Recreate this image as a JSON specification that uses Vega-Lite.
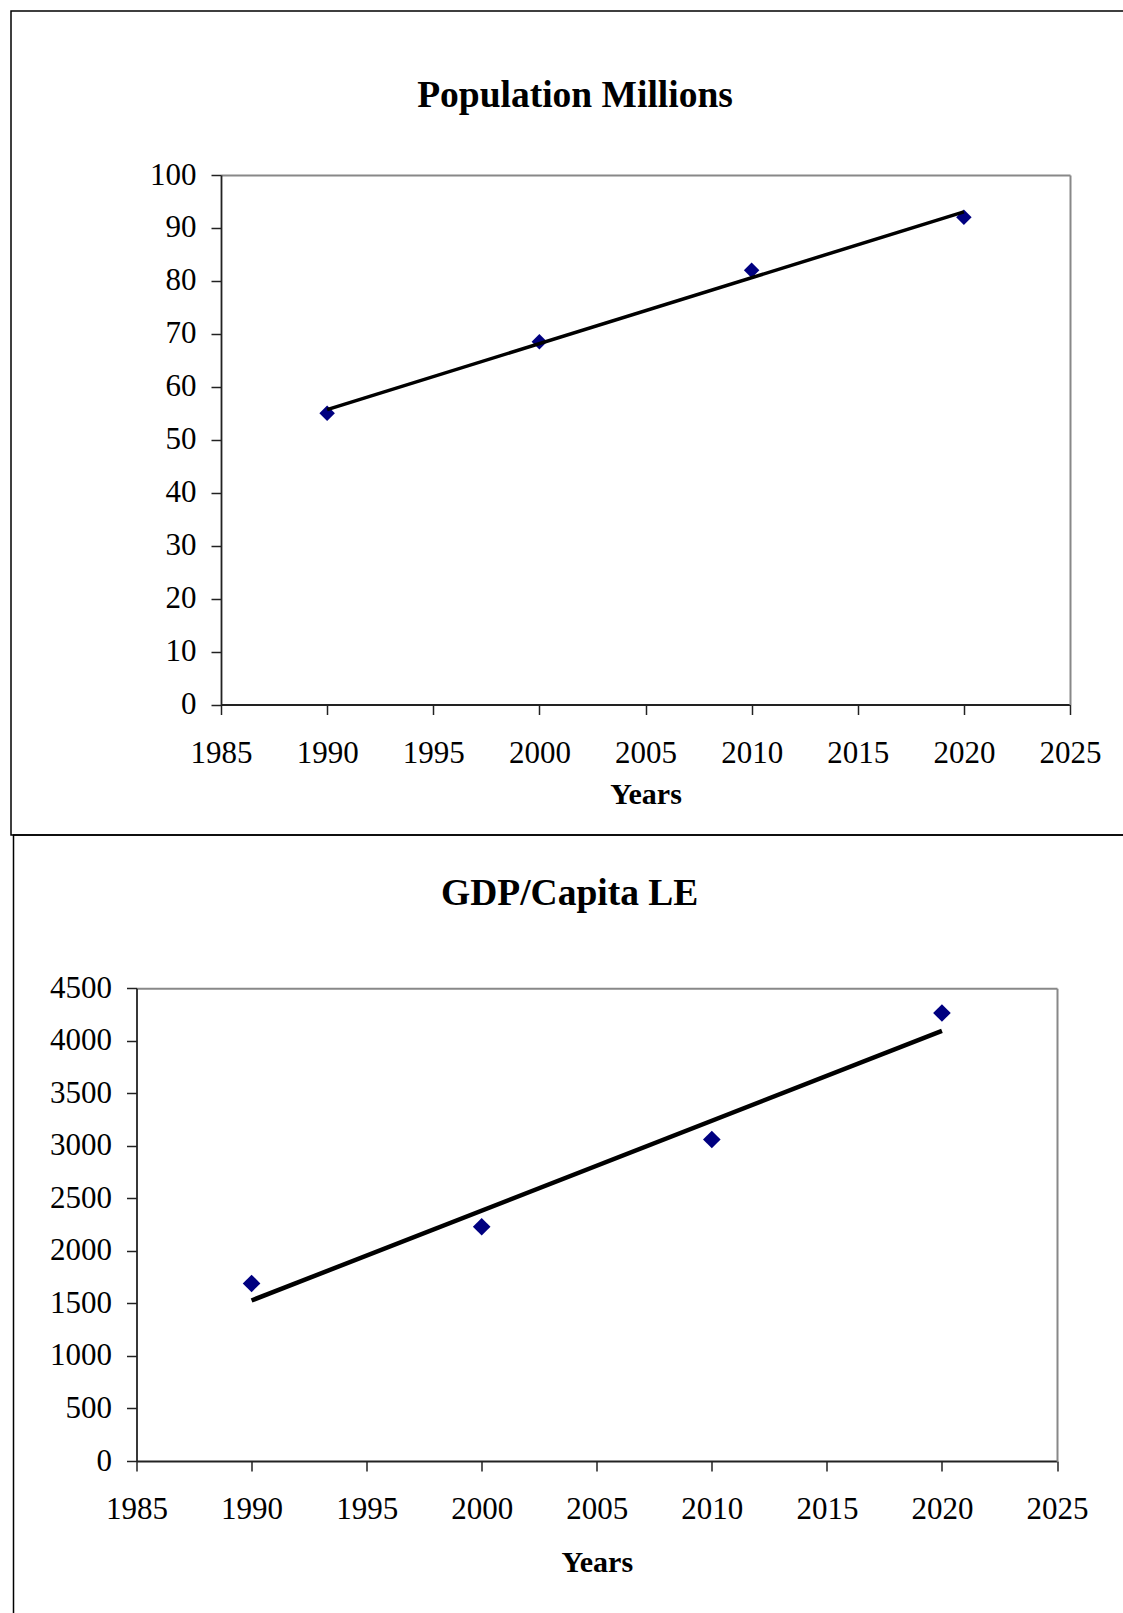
{
  "$schema": "https://vega.github.io/schema/vega-lite/v6.json",
  "background": "white",
  "padding": {"left": 10, "top": 10, "right": 0, "bottom": 0},
  "spacing": 0,
  "bounds": "flush",
  "center": true,
  "config": {
    "view": {"stroke": "black", "strokeWidth": 1.5},
    "font": "Liberation Serif",
    "axis": {
      "grid": false,
      "labelFont": "Liberation Serif",
      "labelFontSize": 31,
      "labelColor": "black",
      "labelOverlap": false,
      "labelFlush": false,
      "titleFont": "Liberation Serif",
      "titleFontSize": 30,
      "titleFontWeight": "bold",
      "titleColor": "black",
      "tickColor": "#222222",
      "tickWidth": 1.5,
      "tickSize": 10,
      "domainColor": "#222222",
      "domainWidth": 1.8
    },
    "title": {"font": "Liberation Serif", "fontSize": 37.5, "fontWeight": "bold", "color": "black"}
  },
  "datasets": {
    "stats": [
      {"year": 1990, "pop": 55, "gdp": 1690},
      {"year": 2000, "pop": 68.5, "gdp": 2230},
      {"year": 2010, "pop": 82, "gdp": 3060},
      {"year": 2020, "pop": 92, "gdp": 4265}
    ]
  },
  "vconcat": [
    {
      "width": 1120,
      "height": 824,
      "title": {"text": "Population Millions", "baseline": "alphabetic", "offset": -133, "dx": 4},
      "data": {"name": "stats"},
      "layer": [
        {
          "mark": {"type": "point", "shape": "diamond", "filled": true, "color": "#000080", "size": 240, "opacity": 1},
          "encoding": {
            "x": {
              "field": "year", "type": "quantitative",
              "scale": {"domain": [1985, 2025], "range": [210, 1059], "nice": false, "zero": false},
              "axis": {"orient": "bottom", "offset": -130.5, "values": [1985, 1990, 1995, 2000, 2005, 2010, 2015, 2020, 2025], "format": "d", "title": "Years", "labelPadding": 24, "titlePadding": 11}
            },
            "y": {
              "field": "pop", "type": "quantitative",
              "scale": {"domain": [0, 100], "range": [693.5, 164], "nice": false},
              "axis": {"orient": "left", "offset": -210, "values": [0, 10, 20, 30, 40, 50, 60, 70, 80, 90, 100], "title": null, "labelPadding": 15}
            }
          }
        },
        {
          "transform": [{"regression": "pop", "on": "year"}],
          "mark": {"type": "line", "color": "black", "strokeWidth": 3.5},
          "encoding": {
            "x": {
              "field": "year", "type": "quantitative",
              "scale": {"domain": [1985, 2025], "range": [210, 1059], "nice": false, "zero": false},
              "axis": {"orient": "top", "offset": -164, "ticks": false, "labels": false, "title": null, "domainColor": "#888888", "domainWidth": 2}
            },
            "y": {
              "field": "pop", "type": "quantitative",
              "scale": {"domain": [0, 100], "range": [693.5, 164], "nice": false},
              "axis": {"orient": "right", "offset": -61, "ticks": false, "labels": false, "title": null, "domainColor": "#888888", "domainWidth": 2}
            }
          }
        }
      ],
      "resolve": {"axis": {"x": "independent", "y": "independent"}}
    },
    {
      "width": 1115,
      "height": 785,
      "title": {"text": "GDP/Capita LE", "baseline": "alphabetic", "offset": -107, "dx": -1.3},
      "data": {"name": "stats"},
      "layer": [
        {
          "mark": {"type": "point", "shape": "diamond", "filled": true, "color": "#000080", "size": 310, "opacity": 1},
          "encoding": {
            "x": {
              "field": "year", "type": "quantitative",
              "scale": {"domain": [1985, 2025], "range": [123, 1043.5], "nice": false, "zero": false},
              "axis": {"orient": "bottom", "offset": -159, "values": [1985, 1990, 1995, 2000, 2005, 2010, 2015, 2020, 2025], "format": "d", "title": "Years", "labelPadding": 23, "titlePadding": 23}
            },
            "y": {
              "field": "gdp", "type": "quantitative",
              "scale": {"domain": [0, 4500], "range": [626, 153.3], "nice": false},
              "axis": {"orient": "left", "offset": -123, "values": [0, 500, 1000, 1500, 2000, 2500, 3000, 3500, 4000, 4500], "format": "d", "title": null, "labelPadding": 15}
            }
          }
        },
        {
          "transform": [{"regression": "gdp", "on": "year"}],
          "mark": {"type": "line", "color": "black", "strokeWidth": 4.5},
          "encoding": {
            "x": {
              "field": "year", "type": "quantitative",
              "scale": {"domain": [1985, 2025], "range": [123, 1043.5], "nice": false, "zero": false},
              "axis": {"orient": "top", "offset": -153.3, "ticks": false, "labels": false, "title": null, "domainColor": "#888888", "domainWidth": 2}
            },
            "y": {
              "field": "gdp", "type": "quantitative",
              "scale": {"domain": [0, 4500], "range": [626, 153.3], "nice": false},
              "axis": {"orient": "right", "offset": -71.5, "ticks": false, "labels": false, "title": null, "domainColor": "#888888", "domainWidth": 2}
            }
          }
        }
      ],
      "resolve": {"axis": {"x": "independent", "y": "independent"}}
    }
  ]
}
